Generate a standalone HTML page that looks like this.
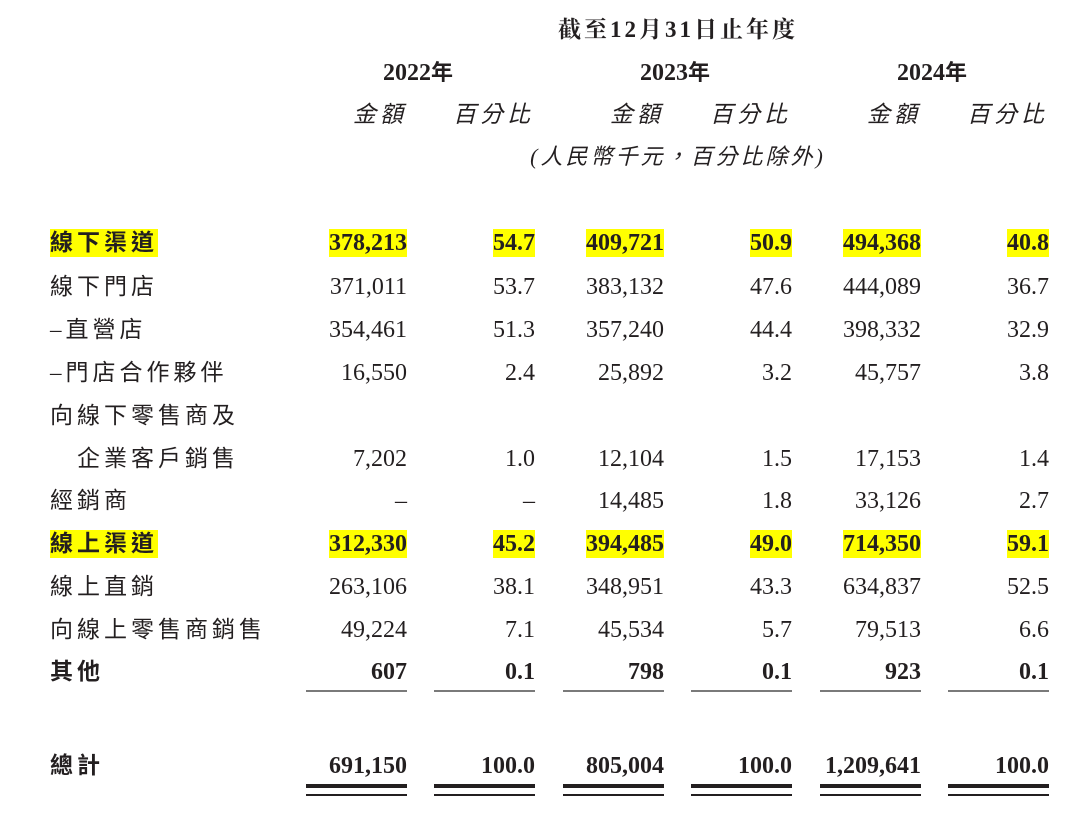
<!DOCTYPE html>
<html><head><meta charset="utf-8">
<style>
body{margin:0;width:1080px;height:828px;background:#fff;overflow:hidden;position:relative;font-family:"Liberation Serif","Noto Serif CJK SC",serif;color:#231f20}
.t{position:absolute;white-space:nowrap;line-height:28px;font-size:24px}
.r{text-align:right}
.c{transform:translateX(-50%)}
.cjk{font-family:"Liberation Serif","Noto Sans CJK TC",sans-serif;letter-spacing:4px;font-size:23px}
.b{font-weight:bold}
.hl{background:#ffff00}
.ln{position:absolute;background:#7a7a7a}
.dl{position:absolute;background:#231f20}
</style></head><body>
<div class="t c b" style="left:678px;top:16px;font-size:23px;letter-spacing:3px;font-family:'Liberation Serif','Noto Serif CJK SC',serif">截至12月31日止年度</div>
<div class="t c b" style="left:420px;top:59px">2022<span class="cjk" style="font-size:22px">年</span></div>
<div class="t c b" style="left:677px;top:59px">2023<span class="cjk" style="font-size:22px">年</span></div>
<div class="t c b" style="left:934px;top:59px">2024<span class="cjk" style="font-size:22px">年</span></div>
<div class="t c cjk" style="left:678px;top:143px;font-style:italic;letter-spacing:3px;font-size:22px">(人民幣千元，百分比除外)</div>
<script>
const labels=["線下渠道","線下門店","–直營店","–門店合作夥伴","向線下零售商及","　企業客戶銷售","經銷商","線上渠道","線上直銷","向線上零售商銷售","其他"];
const amt22=["378,213","371,011","354,461","16,550","","7,202","–","312,330","263,106","49,224","607"];
const pct22=["54.7","53.7","51.3","2.4","","1.0","–","45.2","38.1","7.1","0.1"];
const amt23=["409,721","383,132","357,240","25,892","","12,104","14,485","394,485","348,951","45,534","798"];
const pct23=["50.9","47.6","44.4","3.2","","1.5","1.8","49.0","43.3","5.7","0.1"];
const amt24=["494,368","444,089","398,332","45,757","","17,153","33,126","714,350","634,837","79,513","923"];
const pct24=["40.8","36.7","32.9","3.8","","1.4","2.7","59.1","52.5","6.6","0.1"];
const totals=["691,150","100.0","805,004","100.0","1,209,641","100.0"];
const rowY=[229,273,316,359,402,445,487,530,573,616,658];
const hlRows=[0,7], boldRows=[0,7,10];
const colR=[407,535,664,792,921,1049];
const cols=[amt22,pct22,amt23,pct23,amt24,pct24];
function mk(cls,txt,x,y,right){const d=document.createElement('div');d.className='t '+cls;d.textContent=txt;
if(right){d.style.right=(1080-x)+'px';}else d.style.left=x+'px';d.style.top=y+'px';document.body.appendChild(d);return d;}
for(let i=0;i<3;i++){
 const a=mk('cjk','金額',colR[2*i]-54,101);a.style.fontStyle='italic';
 
 
 const p=mk('cjk','百分比',colR[2*i+1]-82,101);p.style.fontStyle='italic';
 
 
}
labels.forEach((l,i)=>{
 const b=boldRows.includes(i),h=hlRows.includes(i);
 const d=mk('cjk'+(b?' b':'')+(h?' hl':''),l,50,rowY[i]);
 
 
 cols.forEach((c,j)=>{ if(!c[i])return;
  const v=mk('r'+(b?' b':'')+(h?' hl':''),c[i],colR[j],rowY[i],true);
  
  
 });
});
const tl=mk('cjk b','總計',50,752);


totals.forEach((t,j)=>{const v=mk('r b',t,colR[j],752,true);
 
 
 const s=document.createElement('div');s.className='ln';s.style.cssText=`left:${colR[j]-101}px;top:690px;width:101px;height:2px`;
 
 
 document.body.appendChild(s);
 const d1=document.createElement('div');d1.className='dl';d1.style.cssText=`left:${colR[j]-101}px;top:784px;width:101px;height:4px`;
 
 
 document.body.appendChild(d1);
 const d2=document.createElement('div');d2.className='dl';d2.style.cssText=`left:${colR[j]-101}px;top:794px;width:101px;height:2px`;
 
 
 document.body.appendChild(d2);
});
</script>
</body></html>
